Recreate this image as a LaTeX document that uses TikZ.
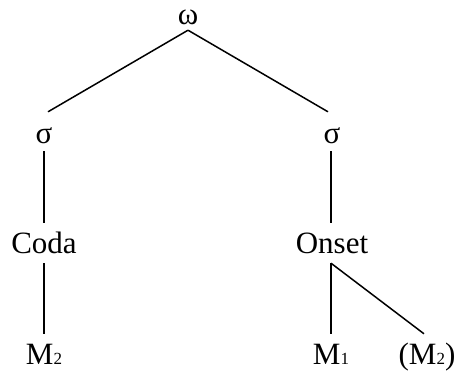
\documentclass[tikz,border=0pt]{standalone}
\usepackage{fontspec}
\setmainfont{Liberation Serif}
\newcommand{\subdigit}[1]{{\fontsize{17bp}{17bp}\selectfont #1}}
\begin{document}
\begin{tikzpicture}[x=1bp,y=-1bp,
  lbl/.style={inner sep=0pt,anchor=base,font=\fontsize{31bp}{37bp}\selectfont,
              text height=31bp,text depth=8bp},
  branch/.style={line width=1.5bp}]
\useasboundingbox (0,0) rectangle (458,370);
% top level
\node[lbl,text depth=6bp] (omega) at (188,24) {ω};
% syllables
\node[lbl] (sigL) at (44,143) {σ};
\node[lbl] (sigR) at (332,143) {σ};
% syllable constituents
\node[lbl,text height=30bp,text depth=10bp] (coda) at (44,253) {Coda};
\node[lbl,text height=30bp,text depth=10bp] (onset) at (332,253) {Onset};
% segments
\node[lbl,text height=30bp,text depth=3bp] (mL) at (44,364) {M\subdigit{2}};
\node[lbl,text height=30bp,text depth=3bp] (mR) at (331,364) {M\subdigit{1}};
\node[lbl,text height=30bp,text depth=3bp] (mP) at (427,364) {(M\subdigit{2})};
% branches
\draw[branch] (omega.south) -- ([xshift=4bp]sigL.north);
\draw[branch] (omega.south) -- ([xshift=-4bp]sigR.north);
\draw[branch] (sigL.south) -- (coda.north);
\draw[branch] ([xshift=-1bp]sigR.south) -- ([xshift=-1bp]onset.north);
\draw[branch] (coda.south) -- (mL.north);
\draw[branch] ([xshift=-1bp]onset.south) -- (mR.north);
\draw[branch] ([xshift=-1bp]onset.south) -- ([xshift=-3bp]mP.north);
\end{tikzpicture}
\end{document}
